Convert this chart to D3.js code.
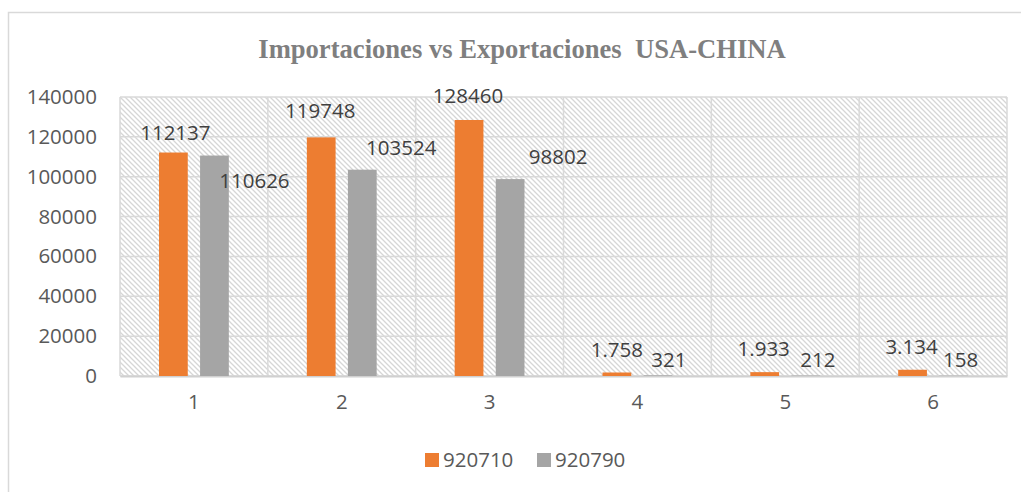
<!DOCTYPE html>
<html>
<head>
<meta charset="utf-8">
<script src="https://cdn.jsdelivr.net/npm/d3@7"></script>
<style>
  body { margin: 0; background: #fff; }
  svg { display: block; }
</style>
</head>
<body>
<script>
// Data
const categories = ["1", "2", "3", "4", "5", "6"];
const seriesNames = ["920710", "920790"];
const values920710 = [112137, 119748, 128460, 1758, 1933, 3134];
const values920790 = [110626, 103524, 98802, 321, 212, 158];
const labels920710 = ["112137", "119748", "128460", "1.758", "1.933", "3.134"];
const labels920790 = ["110626", "103524", "98802", "321", "212", "158"];
const yTicks = [0, 20000, 40000, 60000, 80000, 100000, 120000, 140000];

// labels were moved by hand in the original, so nudge them (dx, dy in px)
const nudge920710 = [[2, -6], [-1, -13], [-1, -10], [0, -9], [-1, -9], [-1, -9]];
const nudge920790 = [[40, 39], [39, -8], [48, -8], [11, -2], [12, -2], [7, -2]];

const w = 1021;
const h = 492;
const margin = { top: 97, right: 14, bottom: 116, left: 120 };
const innerWidth = w - margin.left - margin.right;
const innerHeight = h - margin.top - margin.bottom;

const font = "'Open Sans', sans-serif";
const fontSize = 20.5;
const colors = { "920710": "#ed7d31", "920790": "#a5a5a5" };

const svg = d3.select("body")
    .append("svg")
    .attr("width", w)
    .attr("height", h)
    .attr("font-family", font)
    .attr("font-size", fontSize);

// hatch pattern for the plot area
const defs = svg.append("defs");
defs.append("pattern")
    .attr("id", "hatch")
    .attr("patternUnits", "userSpaceOnUse")
    .attr("width", 5)
    .attr("height", 5)
    .append("path")
    .attr("d", "M-1,-1 L6,6 M-1,4 L1,6 M4,-1 L6,1")
    .attr("stroke", "#d6d6d6")
    .attr("stroke-width", 1.3);

// outer chart border, only left and top edges are in view
svg.append("path")
    .attr("d", `M8.5,${h} V12.5 H${w}`)
    .attr("fill", "none")
    .attr("stroke", "#d9d9d9")
    .attr("stroke-width", 1.5);

// title
svg.append("text")
    .attr("x", 522)
    .attr("y", 58)
    .attr("text-anchor", "middle")
    .attr("font-family", "'Liberation Serif', 'Times New Roman', serif")
    .attr("font-weight", "bold")
    .attr("font-size", 26.6)
    .attr("fill", "#7f7f7f")
    .attr("xml:space", "preserve")
    .text("Importaciones vs Exportaciones  USA-CHINA");

const xScale = d3.scaleBand()
    .domain(categories)
    .range([0, innerWidth])
    .padding(0);

const xSub = d3.scaleBand()
    .domain(seriesNames)
    .range([0, xScale.bandwidth()])
    .paddingInner(0.3)
    .paddingOuter(0.95);

const yScale = d3.scaleLinear()
    .domain([0, 140000])
    .range([innerHeight, 0]);

const g = svg.append("g")
    .attr("transform", `translate(${margin.left},${margin.top})`);

// plot area background
g.append("rect")
    .attr("width", innerWidth)
    .attr("height", innerHeight)
    .attr("fill", "url(#hatch)");

// horizontal gridlines
g.append("g")
    .selectAll("line")
    .data(yTicks)
    .enter()
    .append("line")
    .attr("x1", 0)
    .attr("x2", innerWidth)
    .attr("y1", d => yScale(d))
    .attr("y2", d => yScale(d))
    .attr("stroke", "#d9d9d9")
    .attr("stroke-width", 1.5);

// vertical gridlines at category boundaries
const bounds = categories.map(c => xScale(c)).concat([innerWidth]);
g.append("g")
    .selectAll("line")
    .data(bounds)
    .enter()
    .append("line")
    .attr("x1", d => d)
    .attr("x2", d => d)
    .attr("y1", 0)
    .attr("y2", innerHeight)
    .attr("stroke", "#d9d9d9")
    .attr("stroke-width", 1.5);

// Y axis labels
const yAxis = d3.axisLeft(yScale)
    .tickValues(yTicks)
    .tickFormat(d3.format("d"))
    .tickSize(0)
    .tickPadding(23);
const yAxisG = g.append("g").call(yAxis)
    .attr("font-family", font)
    .attr("font-size", fontSize);
yAxisG.select(".domain").remove();
yAxisG.selectAll("text").attr("fill", "#595959");

// X axis
const xAxis = d3.axisBottom(xScale).tickSize(0).tickPadding(18);
const xAxisG = g.append("g")
    .attr("transform", `translate(0, ${innerHeight})`)
    .call(xAxis)
    .attr("font-family", font)
    .attr("font-size", fontSize);
xAxisG.select(".domain")
    .attr("stroke", "#d0d0d0")
    .attr("stroke-width", 2);
xAxisG.selectAll("text").attr("fill", "#595959");

// bars
const rows = categories.map((c, i) => ({
    cat: c,
    items: [
        { key: "920710", value: values920710[i], label: labels920710[i], nudge: nudge920710[i] },
        { key: "920790", value: values920790[i], label: labels920790[i], nudge: nudge920790[i] }
    ]
}));

const groups = g.selectAll(".cat")
    .data(rows)
    .enter()
    .append("g")
    .attr("class", "cat")
    .attr("transform", d => `translate(${xScale(d.cat)},0)`);

groups.selectAll("rect")
    .data(d => d.items)
    .enter()
    .append("rect")
    .attr("x", d => xSub(d.key))
    .attr("y", d => yScale(d.value))
    .attr("width", xSub.bandwidth())
    .attr("height", d => innerHeight - yScale(d.value))
    .attr("fill", d => colors[d.key]);

// data labels
groups.selectAll("text.lbl")
    .data(d => d.items)
    .enter()
    .append("text")
    .attr("class", "lbl")
    .attr("x", d => xSub(d.key) + xSub.bandwidth() / 2 + d.nudge[0])
    .attr("y", d => yScale(d.value) - 14 + d.nudge[1])
    .attr("dy", "0.35em")
    .attr("text-anchor", "middle")
    .attr("fill", "#404040")
    .text(d => d.label);

// legend
const legend = svg.append("g")
    .attr("transform", "translate(425, 453)");
const legendItems = legend.selectAll("g")
    .data(seriesNames)
    .enter()
    .append("g")
    .attr("transform", (d, i) => `translate(${i * 112},0)`);
legendItems.append("rect")
    .attr("width", 14)
    .attr("height", 14)
    .attr("fill", d => colors[d]);
legendItems.append("text")
    .attr("x", 18)
    .attr("y", 7)
    .attr("dy", "0.35em")
    .attr("fill", "#595959")
    .text(d => d);
</script>
</body>
</html>
